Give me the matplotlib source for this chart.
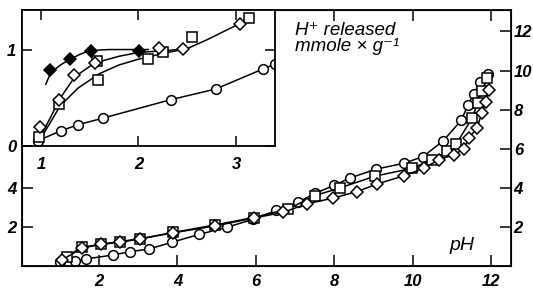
import numpy as np
import matplotlib
matplotlib.use("Agg")
import matplotlib.pyplot as plt

# main panel: H+ released vs pH, three series
ph_circ = [1.02, 1.39, 1.67, 2.35, 2.79, 3.28, 3.87, 4.56, 5.26, 5.93, 6.52, 7.06, 7.51,
           7.99, 8.39, 9.07, 9.78, 10.26, 10.77, 11.23, 11.41, 11.55, 11.72, 11.92]
h_circ = [0.19, 0.26, 0.36, 0.56, 0.73, 0.87, 1.22, 1.62, 1.98, 2.39, 2.84, 3.25, 3.72,
          4.12, 4.5, 4.96, 5.26, 5.6, 6.4, 7.45, 8.26, 8.82, 9.4, 9.8]

ph_sq = [1.18, 1.56, 2.05, 2.54, 3.05, 3.9, 4.96, 5.94, 6.83, 7.5, 8.15, 9.04, 9.98,
         10.49, 10.87, 11.11, 11.51, 11.65, 11.76, 11.89]
h_sq = [0.48, 0.96, 1.1, 1.22, 1.38, 1.72, 2.1, 2.48, 2.92, 3.6, 4.0, 4.6, 5.0,
        5.44, 5.86, 6.26, 7.57, 8.34, 8.94, 9.62]

ph_dia = [1.05, 1.56, 2.05, 2.54, 3.05, 3.9, 4.96, 5.94, 6.7, 7.3, 7.96, 8.58, 9.09,
          9.78, 10.28, 10.66, 11.04, 11.3, 11.42, 11.64, 11.75, 11.87, 11.93]
h_dia = [0.3, 0.9, 1.12, 1.25, 1.4, 1.7, 2.05, 2.45, 2.75, 3.18, 3.47, 3.81, 4.2,
         4.62, 5.0, 5.44, 5.69, 5.98, 6.55, 7.06, 7.83, 8.37, 9.03]

# inset panel: low pH range
in_ph_fdia = [1.09, 1.30, 1.51, 2.01]
in_h_fdia = [0.79, 0.90, 0.99, 0.98]
in_ph_dia = [0.99, 1.19, 1.34, 1.55, 2.21, 2.46, 3.04]
in_h_dia = [0.20, 0.48, 0.74, 0.86, 1.02, 1.01, 1.27]
in_ph_sq = [0.98, 1.19, 1.57, 1.59, 2.10, 2.25, 2.55, 3.13]
in_h_sq = [0.09, 0.44, 0.88, 0.68, 0.90, 0.97, 1.13, 1.33]
in_ph_circ = [0.97, 1.21, 1.38, 1.64, 2.33, 2.79, 3.28, 3.40]
in_h_circ = [0.055, 0.16, 0.22, 0.29, 0.48, 0.59, 0.80, 0.85]

# hand-drawn curves in the inset
cur1_x = [1.05, 1.1, 1.2, 1.3, 1.4, 1.5, 1.7, 2.0, 2.1]
cur1_y = [0.64, 0.76, 0.84, 0.9, 0.95, 0.99, 1.0, 1.0, 1.0]
cur2_x = [0.97, 1.1, 1.2, 1.35, 1.55, 1.8, 2.0, 2.3, 2.5, 2.7, 3.0, 3.12]
cur2_y = [0.05, 0.3, 0.5, 0.72, 0.86, 0.93, 0.97, 0.99, 1.01, 1.1, 1.25, 1.33]
cur3_x = [0.97, 1.1, 1.2, 1.38, 1.6, 1.8, 2.0, 2.3, 2.45]
cur3_y = [0.03, 0.25, 0.42, 0.6, 0.75, 0.84, 0.9, 0.97, 1.0]

plt.rcParams['font.family'] = ['Liberation Sans Narrow', 'Liberation Sans', 'DejaVu Sans']
tick_font = dict(fontsize=12, fontweight='bold', fontstyle='italic')
lw = 1.1
ms = 7.0
mew = 1.1

fig = plt.figure(figsize=(5.33, 2.90), dpi=100)
ax = fig.add_axes([0.0413, 0.0828, 0.9174, 0.8827])

ax.plot(ph_circ, h_circ, 'k-o', lw=lw, ms=ms, mfc='white', mec='k', mew=mew)
ax.plot(ph_sq, h_sq, 'k-s', lw=lw, ms=ms - 0.5, mfc='white', mec='k', mew=mew)
ax.plot(ph_dia, h_dia, 'k-D', lw=lw, ms=ms - 1, mfc='white', mec='k', mew=mew)

ax.set_xlim(0.04, 12.5)
ax.set_ylim(0, 13.1)
ax.set_xticks(range(2, 13, 2))
ax.set_xticklabels([str(v) for v in range(2, 13, 2)], **tick_font)
ax.set_yticks([2, 4])
ax.set_yticklabels(['2', '4'], **tick_font)
ax.tick_params(direction='in', length=8, width=1.1, top=True, pad=6)
ax.tick_params(axis='y', pad=4)
for s in ax.spines.values():
    s.set_linewidth(1.3)

ax2 = ax.twinx()
ax2.set_ylim(0, 13.1)
ax2.set_yticks(range(2, 13, 2))
ax2.set_yticklabels([str(v) for v in range(2, 13, 2)], **tick_font)
ax2.tick_params(direction='in', length=8, width=1.1, pad=2)

ax.text(0.553, 0.925, 'H\u207a released\nmmole \u00d7 g\u207b\u00b9', transform=fig.transFigure,
        fontsize=13.5, fontstyle='italic', va='top', ha='left', linespacing=0.92,
        family=['Liberation Sans', 'DejaVu Sans'])
ax.text(0.867, 0.155, 'pH', transform=fig.transFigure, fontsize=14, fontstyle='italic',
        ha='center', va='center', family=['Liberation Sans', 'DejaVu Sans'])

# inset
ins = fig.add_axes([0.0413, 0.4966, 0.4747, 0.4689])
ins.plot(cur1_x, cur1_y, 'k-', lw=lw)
ins.plot(cur2_x, cur2_y, 'k-', lw=lw)
ins.plot(cur3_x, cur3_y, 'k-', lw=lw)
ins.plot(in_ph_circ, in_h_circ, 'k-o', lw=lw, ms=ms, mfc='white', mec='k', mew=mew)
ins.plot(in_ph_fdia, in_h_fdia, 'kD', ms=ms - 1, mfc='k', mec='k', mew=mew)
ins.plot(in_ph_sq, in_h_sq, 'ks', ms=ms - 0.5, mfc='white', mec='k', mew=mew)
ins.plot(in_ph_dia, in_h_dia, 'kD', ms=ms - 1, mfc='white', mec='k', mew=mew)

ins.set_xlim(0.806, 3.40)
ins.set_ylim(0, 1.41)
ins.set_xticks([1, 2, 3])
ins.set_xticklabels(['1', '2', '3'], **tick_font)
ins.set_yticks([0, 1])
ins.set_yticklabels(['0', '1'], **tick_font)
ins.tick_params(direction='in', length=7, width=1.1, top=True, right=True)
ins.tick_params(axis='x', pad=8)
ins.tick_params(axis='y', pad=4)
for s in ins.spines.values():
    s.set_linewidth(1.3)

fig.savefig('out.png', dpi=100)
